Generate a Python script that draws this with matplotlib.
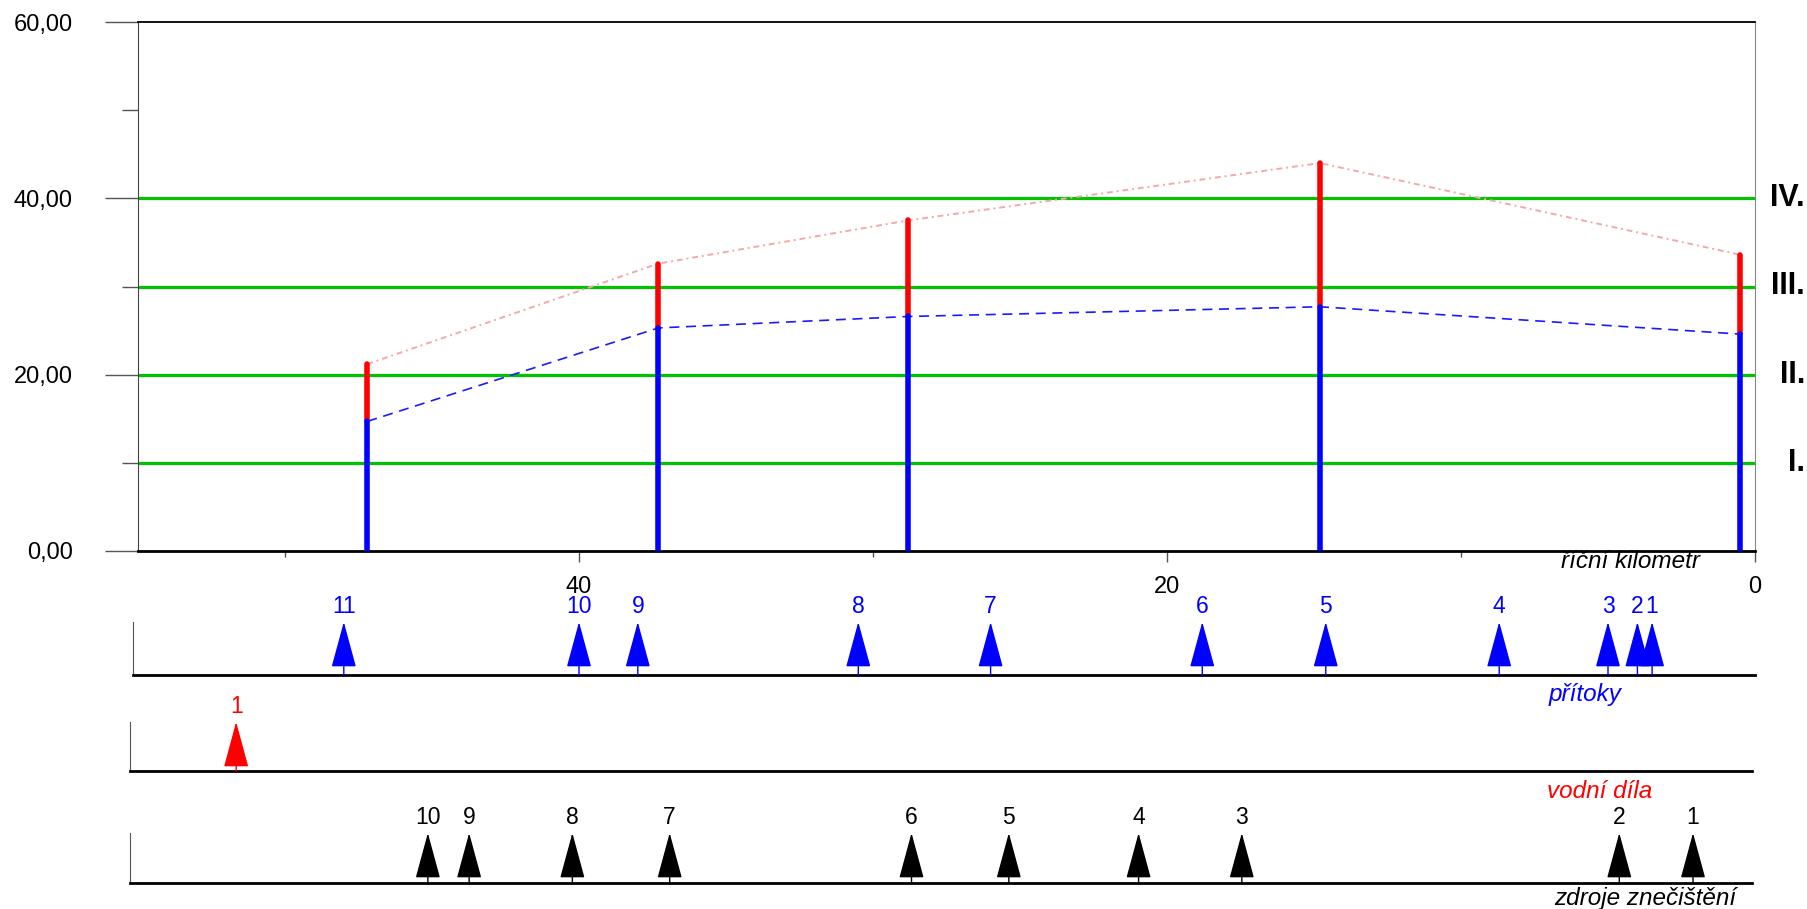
import matplotlib
matplotlib.use('Agg')
from matplotlib import pyplot as plt
from matplotlib.ticker import MultipleLocator, FuncFormatter

plt.rcParams['font.family'] = ['Liberation Sans', 'DejaVu Sans']

# longitudinal profile (river km, lower / upper value)
profile_km = [47.2, 37.3, 28.8, 14.8, 0.5]
profile_low = [14.7, 25.3, 26.6, 27.7, 24.6]
profile_high = [21.2, 32.6, 37.5, 44.0, 33.6]

class_limits = [10, 20, 30, 40]
class_names = ['I.', 'II.', 'III.', 'IV.']

# tributaries, water works, pollution sources
tributary_km = [3.5, 4.0, 5.0, 8.7, 14.6, 18.8, 26.0, 30.5, 38.0, 40.0, 48.0]
tributary_ids = [1, 2, 3, 4, 5, 6, 7, 8, 9, 10, 11]
works_km = [51.4]
works_ids = [1]
source_km = [2.0, 4.5, 17.3, 20.8, 25.2, 28.5, 36.7, 40.0, 43.5, 44.9]
source_ids = [1, 2, 3, 4, 5, 6, 7, 8, 9, 10]

W, H = 1807, 909
fig = plt.figure(figsize=(W / 100, H / 100), dpi=100)


def box(left, right, top, bottom):
    return [left / W, 1 - bottom / H, (right - left) / W, (bottom - top) / H]


# main chart
ax = fig.add_axes(box(138, 1755, 22, 551))
ax.set_xlim(55, 0)
ax.set_ylim(0, 60)

for lim in class_limits:
    ax.axhline(lim, color='#00c400', lw=2.3, zorder=1)

ax.plot(profile_km, profile_high, color='#f4a8a8', lw=1.4,
        linestyle=(0, (3, 2, 1, 2)), zorder=2)
ax.plot(profile_km, profile_low, color='#1a1aff', lw=1.2,
        linestyle=(0, (6, 4)), zorder=2)
ax.vlines(profile_km, profile_low, profile_high, color='red', lw=4,
          capstyle='round', zorder=3)
ax.vlines(profile_km, 0, profile_low, color='blue', lw=4,
          capstyle='round', zorder=4)

ax.yaxis.set_major_locator(MultipleLocator(20))
ax.yaxis.set_minor_locator(MultipleLocator(10))
ax.yaxis.set_major_formatter(FuncFormatter(lambda v, p: f'{v:.2f}'.replace('.', ',')))
ax.xaxis.set_major_locator(MultipleLocator(20))
ax.xaxis.set_minor_locator(MultipleLocator(10))
ax.xaxis.set_major_formatter(FuncFormatter(lambda v, p: f'{v:.0f}'))
ax.tick_params(axis='y', which='major', length=24, width=1, color='#555555',
               pad=23, labelsize=17)
ax.tick_params(axis='y', which='minor', length=11.5, width=1, color='#555555')
ax.tick_params(axis='x', which='major', length=8, width=1, color='#555555',
               pad=10, labelsize=17)
ax.tick_params(axis='x', which='minor', length=4.5, width=1, color='#555555')

ax.spines['top'].set_linewidth(1.3)
ax.spines['bottom'].set_linewidth(2)
ax.spines['left'].set_color('#444444')
ax.spines['right'].set_color('#888888')

for lim, name in zip(class_limits, class_names):
    fig.text(1805 / W, 1 - (551 - lim * 529 / 60) / H, name, ha='right',
             va='center', fontsize=22, fontweight='bold')

fig.text(1700 / W, 1 - 562 / H, 'říční kilometr', ha='right', va='center',
         fontsize=17.5, style='italic')


def marker_panel(rect, xlim, kms, ids, color, title, title_xy):
    pax = fig.add_axes(rect)
    pax.set_xlim(xlim, 0)
    pax.set_ylim(0, 1)
    pax.set_xticks([])
    pax.set_yticks([])
    pax.spines['top'].set_visible(False)
    pax.spines['right'].set_visible(False)
    pax.spines['left'].set_color('#555555')
    pax.spines['bottom'].set_linewidth(2)
    pax.patch.set_alpha(0)
    for km, n in zip(kms, ids):
        pax.annotate('', xy=(km, 1), xytext=(km, 0),
                     arrowprops=dict(arrowstyle='-|>,head_length=2.95,head_width=0.8',
                                     color=color, lw=1, shrinkA=0, shrinkB=0),
                     annotation_clip=False)
        pax.annotate(str(n), xy=(km, 1), xytext=(0, 3), textcoords='offset points',
                     ha='center', va='bottom', color=color, fontsize=16.5,
                     annotation_clip=False)
    fig.text(title_xy[0] / W, 1 - title_xy[1] / H, title, ha='center',
             va='center', color=color, fontsize=17.5, style='italic')
    return pax


marker_panel(box(133, 1755, 622, 675), 55.17, tributary_km, tributary_ids,
             'blue', 'přítoky', (1585, 694))
marker_panel(box(130, 1752, 722, 771), 55, works_km, works_ids,
             'red', 'vodní díla', (1600, 792))
marker_panel(box(130, 1752, 833, 883), 55, source_km, source_ids,
             'black', 'zdroje znečištění', (1645, 898))

fig.savefig('out.png', dpi=100)
